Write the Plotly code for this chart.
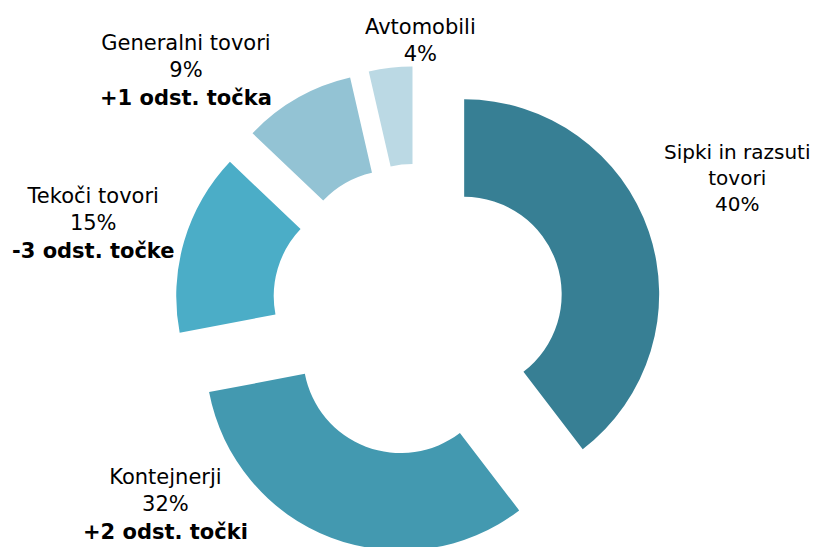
import plotly.graph_objects as go

categories = ["Sipki in razsuti tovori", "Kontejnerji", "Tekoči tovori", "Generalni tovori", "Avtomobili"]
shares = [39.6, 32.4, 15.1, 9.3, 3.6]
share_labels = ["40%", "32%", "15%", "9%", "4%"]  # as printed on the chart
changes = ["", "+2 odst. točki", "-3 odst. točke", "+1 odst. točka", ""]
colors = ["#377F94", "#4399B0", "#4BADC7", "#93C3D4", "#BBD9E4"]

# the page adds an 8px body margin; figure coords = window coords - 8
OFF = 8
W, H = 812, 560

# pie geometry in window pixels
CX, CY = 418, 310
R = 195
PULL = 0.25
half = R * (1 + PULL)
fx, fy = CX - OFF, CY - OFF
dom_x = [(fx - half) / W, (fx + half) / W]
dom_y = [1 - (fy + half) / H, 1 - (fy - half) / H]

fig = go.Figure(go.Pie(
    labels=categories,
    values=shares,
    sort=False,
    direction="clockwise",
    rotation=0,
    hole=0.5,
    pull=[PULL] * len(shares),
    marker=dict(colors=colors, line=dict(width=0)),
    textinfo="none",
    hoverinfo="label+percent",
    showlegend=False,
    domain=dict(x=dom_x, y=dom_y),
))

label_lines = {
    0: ["Sipki in razsuti", "tovori", share_labels[0]],
    1: [categories[1], share_labels[1], f"<b>{changes[1]}</b>"],
    2: [categories[2], share_labels[2], f"<b>{changes[2]}</b>"],
    3: [categories[3], share_labels[3], f"<b>{changes[3]}</b>"],
    4: [categories[4], share_labels[4]],
}
# label centres in window pixels, and font sizes
label_pos = {0: (737, 178), 1: (165, 504), 2: (93, 224), 3: (186, 70), 4: (421, 40)}
label_size = {0: 20, 1: 21, 2: 21, 3: 21, 4: 21}

for i, lines in label_lines.items():
    px, py = label_pos[i]
    fig.add_annotation(
        x=(px - OFF) / W, y=1 - (py - OFF) / H, xref="paper", yref="paper",
        text="<br>".join(lines), showarrow=False,
        xanchor="center", yanchor="middle", align="center",
        font=dict(family="DejaVu Sans", size=label_size[i], color="#000000"),
    )

fig.update_layout(
    width=W, height=H,
    margin=dict(l=0, r=0, t=0, b=0),
    paper_bgcolor="white", plot_bgcolor="white",
)

fig.write_html("out.html")
